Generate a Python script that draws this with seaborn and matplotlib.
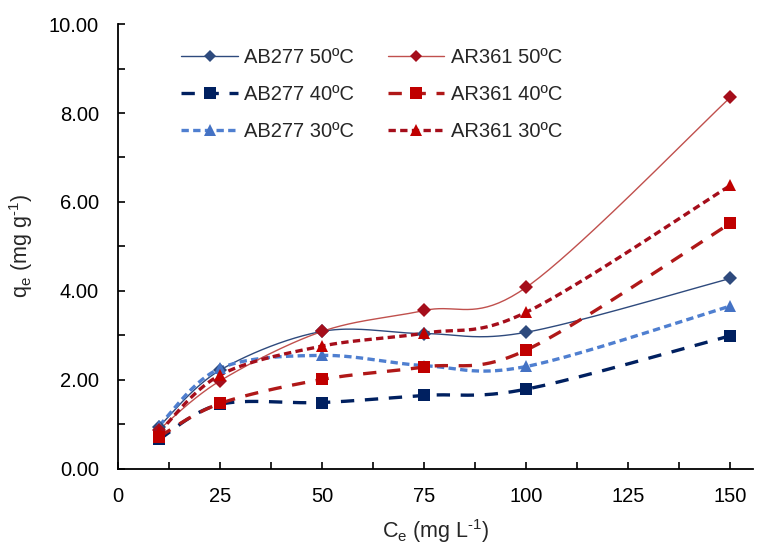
import numpy as np
import pandas as pd
import matplotlib
matplotlib.use("Agg")
import matplotlib.pyplot as plt
from matplotlib.lines import Line2D
from matplotlib.ticker import MultipleLocator, FormatStrFormatter
import seaborn as sns

# ---- data ----
ce = [10, 25, 50, 75, 100, 150]
ab277_50 = [0.95, 2.22, 3.09, 3.04, 3.07, 4.28]
ab277_40 = [0.66, 1.45, 1.49, 1.65, 1.79, 2.99]
ab277_30 = [0.97, 2.26, 2.55, 2.32, 2.30, 3.66]
ar361_50 = [0.88, 1.98, 3.09, 3.56, 4.08, 8.35]
ar361_40 = [0.72, 1.47, 2.01, 2.29, 2.67, 5.52]
ar361_30 = [0.82, 2.11, 2.76, 3.05, 3.52, 6.37]
labels = ["AB277 50ºC", "AB277 40ºC", "AB277 30ºC",
          "AR361 50ºC", "AR361 40ºC", "AR361 30ºC"]

sns.set_style("white")
plt.rcParams['font.family'] = ['Liberation Sans', 'DejaVu Sans']
plt.rcParams['mathtext.fontset'] = 'custom'
plt.rcParams['mathtext.rm'] = 'Liberation Sans'
plt.rcParams['mathtext.it'] = 'Liberation Sans'


def smooth(xs, ys, n=40):
    """Excel-like smoothed line (Bezier with Catmull-Rom control points)."""
    P = np.column_stack([xs, ys]).astype(float)
    sx, sy = 4.07, 44.3
    Q = P * [sx, sy]
    out = []
    m = len(Q)
    for i in range(m - 1):
        p0 = Q[i - 1] if i > 0 else Q[i]
        p1 = Q[i]
        p2 = Q[i + 1]
        p3 = Q[i + 2] if i + 2 < m else Q[i + 1]
        c1 = p1 + (p2 - p0) / 6.0
        c2 = p2 - (p3 - p1) / 6.0
        t = np.linspace(0, 1, n)[:, None]
        seg = ((1 - t) ** 3) * p1 + 3 * ((1 - t) ** 2) * t * c1 + 3 * (1 - t) * t ** 2 * c2 + t ** 3 * p2
        if i > 0:
            seg = seg[1:]
        out.append(seg)
    C = np.vstack(out) / [sx, sy]
    return C[:, 0], C[:, 1]


series = [
    (ab277_50, dict(color="#2E4A7D", lw=1.0, ls="-"), dict(marker="D", color="#2E4A7D", ms=7)),
    (ab277_40, dict(color="#002060", lw=2.4, ls=(0, (4, 3.2))), dict(marker="s", color="#002060", ms=9)),
    (ab277_30, dict(color="#4F7FD0", lw=2.4, ls=(0, (2.2, 1.3))), dict(marker="^", color="#4472C4", ms=9)),
    (ar361_50, dict(color="#C0504D", lw=1.0, ls="-"), dict(marker="D", color="#A50E1B", ms=7)),
    (ar361_40, dict(color="#B01818", lw=2.4, ls=(0, (4, 3.2))), dict(marker="s", color="#C00000", ms=9)),
    (ar361_30, dict(color="#A50E1B", lw=2.4, ls=(0, (2.2, 1.3))), dict(marker="^", color="#C00000", ms=9)),
]

fig = plt.figure(figsize=(7.58, 5.47), dpi=100)
ax = fig.add_axes([0.156, 0.143, 0.837, 0.813])

handles = []
for (vals, lstyle, mstyle), lab in zip(series, labels):
    sxv, syv = smooth(ce, vals)
    df = pd.DataFrame({"x": sxv, "y": syv})
    sns.lineplot(data=df, x="x", y="y", sort=False, estimator=None, ax=ax,
                 color=lstyle["color"], linewidth=lstyle["lw"], linestyle=lstyle["ls"],
                 zorder=2)
    ax.plot(ce, vals, linestyle="none", marker=mstyle["marker"], color=mstyle["color"],
            markersize=mstyle["ms"], markeredgewidth=0, zorder=3)
    handles.append(Line2D([], [], color=lstyle["color"], linewidth=lstyle["lw"],
                          linestyle=lstyle["ls"], marker=mstyle["marker"],
                          markerfacecolor=mstyle["color"], markeredgewidth=0,
                          markersize=mstyle["ms"] * 0.9))

ax.set_xlim(0, 155.5)
ax.set_ylim(0, 10)
ax.xaxis.set_major_locator(MultipleLocator(25))
ax.xaxis.set_minor_locator(MultipleLocator(12.5))
ax.yaxis.set_major_locator(MultipleLocator(2))
ax.yaxis.set_minor_locator(MultipleLocator(1))
ax.yaxis.set_major_formatter(FormatStrFormatter("%.2f"))
ax.tick_params(which="both", direction="in", length=5, width=1.2, colors="black",
               labelsize=14.5, bottom=True, left=True)
ax.tick_params(axis="x", pad=13)
ax.tick_params(axis="y", pad=14)

for s in ["top", "right"]:
    ax.spines[s].set_visible(False)
for s in ["left", "bottom"]:
    ax.spines[s].set_color("black")
    ax.spines[s].set_linewidth(1.3)

ax.set_xlabel(r"C$_{\rm e}$ (mg L$^{\text{-1}}$)", fontsize=15.5, labelpad=8)
ax.set_ylabel(r"q$_{\rm e}$ (mg g$^{\text{-1}}$)", fontsize=15.5, labelpad=10)

ax.legend(handles=handles, labels=labels, ncol=2, frameon=False, fontsize=14.5,
          loc="upper left", bbox_to_anchor=(0.071, 0.9875), handlelength=2.8,
          handletextpad=0.3, columnspacing=1.7, labelspacing=0.9,
          borderpad=0.4)

fig.savefig("out.png", dpi=100)
